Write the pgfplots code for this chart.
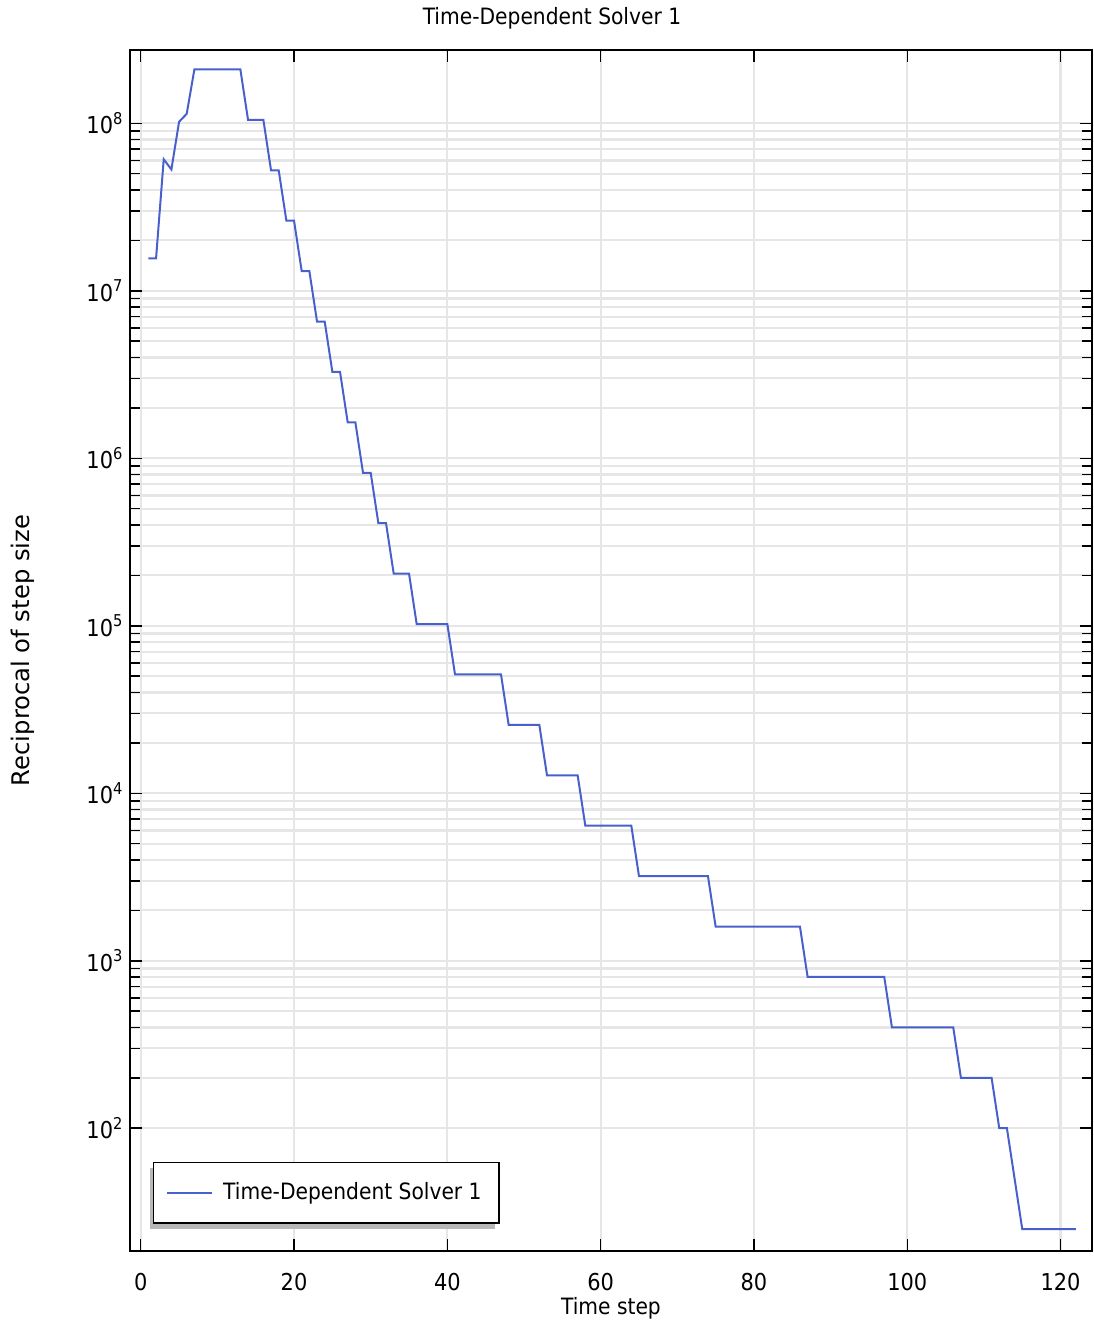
\documentclass[border=0pt]{standalone}
\usepackage{fontspec}
\setmainfont{DejaVu Sans Condensed}
\newfontfamily\widefont{DejaVu Sans}
\usepackage{pgfplots}
\pgfplotsset{compat=1.18}
\usetikzlibrary{shadows}

\definecolor{solverblue}{RGB}{72,96,204}
\definecolor{gridgray}{RGB}{230,230,230}

% reciprocal of step size per time step (plateau end points)
\pgfplotstableread{
step recip
1   1.56e7
2   1.56e7
3   6.1e7
4   5.3e7
5   1.02e8
6   1.14e8
7   2.097e8
13  2.097e8
14  1.048e8
16  1.048e8
17  5.24e7
18  5.24e7
19  2.62e7
20  2.62e7
21  1.31e7
22  1.31e7
23  6.55e6
24  6.55e6
25  3.28e6
26  3.28e6
27  1.64e6
28  1.64e6
29  8.19e5
30  8.19e5
31  4.10e5
32  4.10e5
33  2.05e5
35  2.05e5
36  1.024e5
40  1.024e5
41  5.12e4
47  5.12e4
48  2.56e4
52  2.56e4
53  1.28e4
57  1.28e4
58  6400
64  6400
65  3200
74  3200
75  1600
86  1600
87  800
97  800
98  400
106 400
107 200
111 200
112 100
113 100
114 50
115 25
122 25
}\solverdata

\begin{document}
\begin{tikzpicture}
\begin{axis}[
    scale only axis,
    width=384.8pt, height=480.4pt,
    ymode=log,
    xmin=-1.4, xmax=124.1,
    ymin=18.5, ymax=2.74e8,
    xtick={0,20,...,120},
    ytick={1e2,1e3,1e4,1e5,1e6,1e7,1e8},
    yticklabels={10\textsuperscript{2},10\textsuperscript{3},10\textsuperscript{4},10\textsuperscript{5},10\textsuperscript{6},10\textsuperscript{7},10\textsuperscript{8}},
    xticklabel={\pgfmathprintnumber[assume math mode=true]{\tick}},
    tick label style={font=\fontsize{9.3}{11}\selectfont},
    xticklabel style={anchor=base, yshift=-15.6pt},
    yticklabel style={anchor=east, xshift=1pt},
    tick align=inside,
    major tick length=4.8pt,
    minor tick length=4.2pt,
    every tick/.style={black, line width=0.6pt},
    axis line style={black, line width=0.8pt},
    grid=both,
    major grid style={gridgray, line width=0.9pt},
    minor grid style={gridgray, line width=0.9pt},
    title={Time-Dependent Solver 1},
    title style={font=\fontsize{9}{11}\selectfont, anchor=base, at={(0.5,1)}, xshift=-23.6pt, yshift=4.2pt},
    xlabel={Time step},
    xlabel style={font=\fontsize{9}{11}\selectfont, anchor=base, at={(0.5,0)}, yshift=-25.6pt},
    ylabel={Reciprocal of step size},
    ylabel style={font=\widefont\fontsize{9.7}{11}\selectfont, anchor=base, at={(0,0.5)}, rotate=0, yshift=40pt},
    legend style={at={(0,0)}, anchor=south west, xshift=9.2pt, yshift=10.8pt,
        draw=black, line width=0.6pt, fill=white,
        inner xsep=5pt, inner ysep=6pt,
        font=\fontsize{9}{11}\selectfont,
        drop shadow={shadow xshift=-1.6pt, shadow yshift=-2.4pt, fill=black!28, draw=none, opacity=1}},
    legend cell align=left,
    legend image code/.code={\draw[#1, line width=0.8pt] (0pt,0pt) -- (18pt,0pt); \path (20pt,0pt);},
]
\addplot[solverblue, line width=0.8pt] table[x=step, y=recip] {\solverdata};
\legend{Time-Dependent Solver 1}
\end{axis}
\pgfresetboundingbox
\path[use as bounding box] ([shift={(-52pt,-29.2pt)}]current axis.south west) rectangle ([shift={(0.8pt,20pt)}]current axis.north east);
\end{tikzpicture}
\end{document}
